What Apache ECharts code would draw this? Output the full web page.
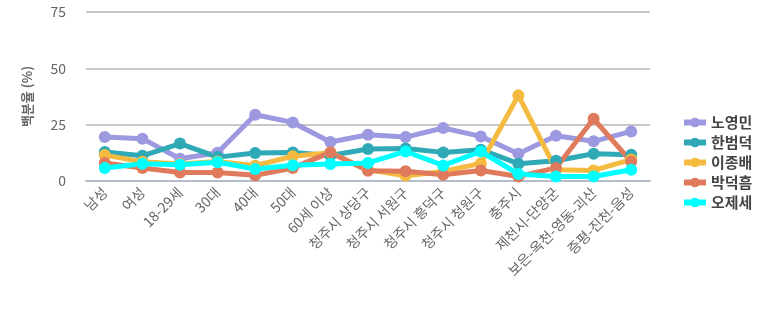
<!DOCTYPE html>
<html><head><meta charset="utf-8">
<script src="https://cdn.jsdelivr.net/npm/echarts@6/dist/echarts.min.js"></script>
<style>html,body{margin:0;padding:0;background:#fff}#c{width:773px;height:322px}</style>
</head><body><div id="c"></div>
<script>
const categories = ['남성','여성','18-29세','30대','40대','50대','60세 이상','청주시 상당구','청주시 서원구','청주시 흥덕구','청주시 청원구','충주시','제천시-단양군','보은-옥천-영동-괴산','증평-진천-음성'];
const seriesNames = ['노영민','한범덕','이종배','박덕흠','오제세'];
const noYoungmin = [19.5,18.8,9.9,12.5,29.4,26.0,17.3,20.5,19.5,23.5,19.8,12.1,20.1,17.6,22.0];
const hanBeomdeok = [12.9,11.2,16.6,10.6,12.4,12.6,11.3,14.2,14.4,12.7,13.9,7.7,9.0,12.1,11.7];
const leeJongbae = [11.5,8.5,7.5,8.7,6.8,11.0,12.5,5.0,2.3,4.2,7.8,38.0,5.0,4.7,9.5];
const parkDeokheum = [8.0,5.8,3.8,3.8,2.5,5.8,12.7,4.6,4.3,2.8,4.7,2.0,5.8,27.6,8.6];
const ohJese = [5.8,7.7,7.2,8.3,5.3,7.0,7.5,8.0,13.1,6.9,13.1,3.1,2.0,2.0,5.0];
const yTicks = [0,25,50,75];
const colors = ['#9c99e0','#2fa9b6','#f5bb40','#e07a5c','#00ffff'];
const values = [noYoungmin,hanBeomdeok,leeJongbae,parkDeokheum,ohJese];

const chart = echarts.init(document.getElementById('c'));
chart.setOption({
  animation:false,
  color:colors,
  grid:{left:86,right:123,top:12,bottom:141},
  legend:{
    orient:'vertical', left:676, top:110, itemGap:5, itemWidth:22, itemHeight:12,
    lineStyle:{width:6},
    textStyle:{fontSize:15,fontWeight:'bold',color:'#444',fontFamily:'Noto Sans CJK KR'},
    data:seriesNames
  },
  xAxis:{
    type:'category', data:categories, boundaryGap:true,
    axisLine:{lineStyle:{color:'#b4bccb',width:2}},
    axisTick:{show:false},
    axisLabel:{rotate:45,interval:0,fontSize:14,color:'#666',margin:9,fontFamily:'Noto Sans CJK KR'}
  },
  yAxis:{
    type:'value', min:0, max:75, interval:25,
    name:'백분율 (%)', nameLocation:'middle', nameGap:52, nameRotate:90,
    nameTextStyle:{fontSize:13,color:'#666',fontWeight:'bold',fontFamily:'Noto Sans CJK KR'},
    axisLine:{show:false}, axisTick:{show:false},
    axisLabel:{fontSize:14,color:'#666',margin:20,fontFamily:'Noto Sans CJK KR',
      formatter:v=>yTicks.includes(v)?String(v):''},
    splitLine:{lineStyle:{color:'#c8c8c8',width:2}}
  },
  series: seriesNames.map((n,i)=>({
    name:n, type:'line', data:values[i], symbol:'circle', symbolSize:12,
    lineStyle:{width:5}, itemStyle:{color:colors[i]}
  }))
});
</script></body></html>
